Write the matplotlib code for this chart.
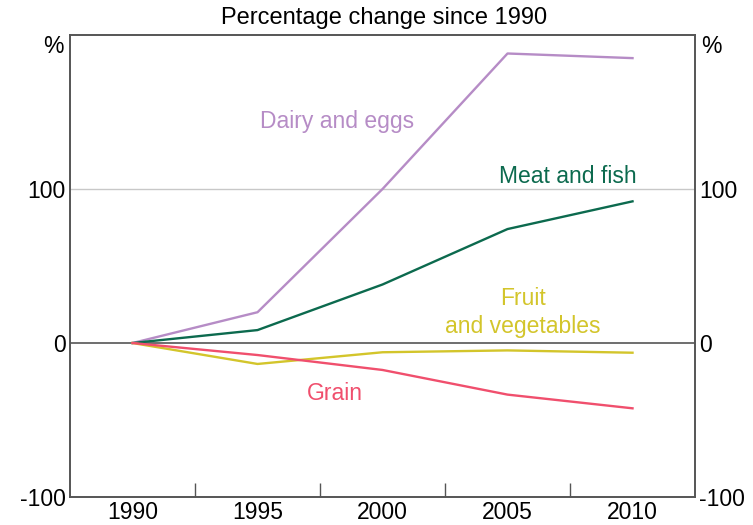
import matplotlib.pyplot as plt

plt.rcParams['font.family'] = ['Liberation Sans', 'DejaVu Sans']

years = [1990, 1995, 2000, 2005, 2010]
dairy = [0, 20, 100, 188, 185]
meat = [0, 8.4, 38, 74, 92]
fruit = [0, -13.6, -6, -4.8, -6.3]
grain = [0, -7.8, -17.5, -33.5, -42.4]

x_ticks = [1992.5, 1997.5, 2002.5, 2007.5]
x_labels = [1990, 1995, 2000, 2005, 2010]
y_ticks = [-100, 0, 100, 200]
y_labels = ['-100', '0', '100', '']

c_dairy = '#B68CC6'
c_meat = '#0C6A4E'
c_fruit = '#D3C52B'
c_grain = '#F04F6D'
axis_col = '#555555'

fig = plt.figure(figsize=(7.53, 5.25), dpi=100)
ax = fig.add_axes([0.093, 0.0533, 0.830, 0.880])

ax.axhline(100, color='#C8C8C8', lw=1, zorder=1)
ax.axhline(0, color=axis_col, lw=1.2, zorder=1)

lw = 1.7
ax.plot(years, dairy, color=c_dairy, lw=lw, zorder=3)
ax.plot(years, meat, color=c_meat, lw=lw, zorder=3)
ax.plot(years, fruit, color=c_fruit, lw=lw, zorder=3)
ax.plot(years, grain, color=c_grain, lw=lw, zorder=3)

fs = 16.5
ax.text(1998.2, 144, 'Dairy and eggs', color=c_dairy, fontsize=fs, ha='center', va='center')
ax.text(2007.4, 108, 'Meat and fish', color=c_meat, fontsize=fs, ha='center', va='center')
ax.text(2005.6, 20, 'Fruit\nand vegetables', color=c_fruit, fontsize=fs, ha='center', va='center',
        linespacing=1.3)
ax.text(1998.1, -33, 'Grain', color=c_grain, fontsize=fs, ha='center', va='center')

ax.set_xlim(1987.5, 2012.5)
ax.set_ylim(-100, 200)

ax.set_xticks(x_ticks)
ax.set_xticklabels([])
ax.set_xticks(x_labels, minor=True)
ax.set_xticklabels([str(v) for v in x_labels], minor=True, fontsize=fs)
ax.tick_params(axis='x', which='major', direction='in', length=10, width=1, color=axis_col)
ax.tick_params(axis='x', which='minor', length=0, pad=3)

ax.set_yticks(y_ticks)
ax.set_yticklabels(y_labels, fontsize=fs)
ax.tick_params(axis='y', length=0, pad=3)

ax2 = ax.twinx()
ax2.set_ylim(-100, 200)
ax2.set_yticks(y_ticks)
ax2.set_yticklabels(y_labels, fontsize=fs)
ax2.tick_params(axis='y', length=0, pad=3)

for a in (ax, ax2):
    for s in a.spines.values():
        s.set_color(axis_col)
        s.set_linewidth(1.2)

ax.text(-0.01, 0.975, '%', transform=ax.transAxes, ha='right', va='center', fontsize=fs)
ax.text(1.01, 0.975, '%', transform=ax.transAxes, ha='left', va='center', fontsize=fs)

fig.text(0.51, 0.966, 'Percentage change since 1990', ha='center', va='center', fontsize=17)

fig.savefig('out.png', dpi=100)
